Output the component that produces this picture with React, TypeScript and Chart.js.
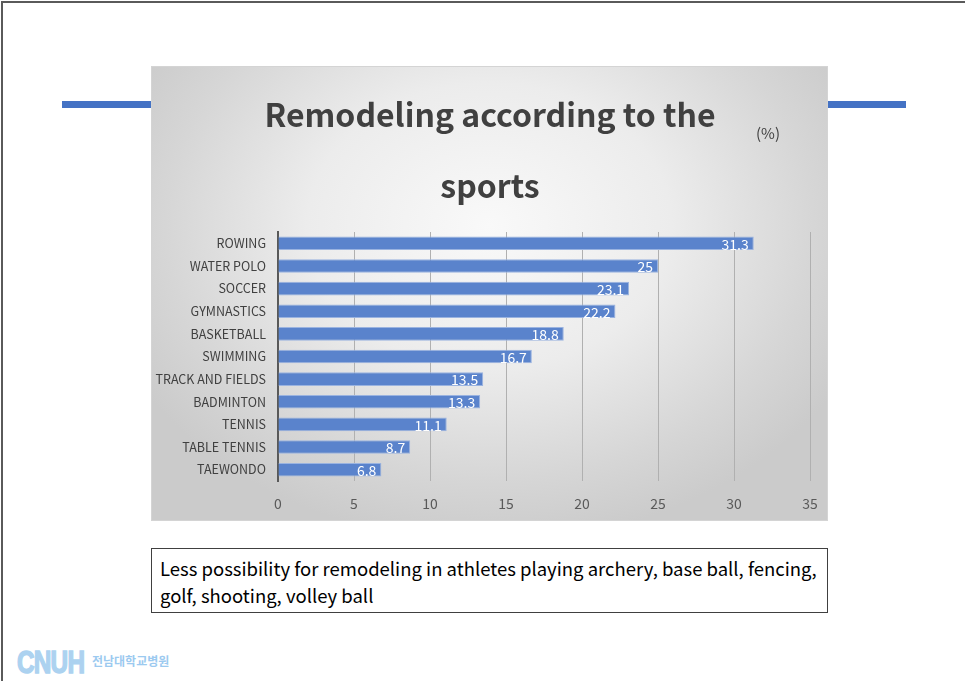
import React, { useEffect, useRef } from "react";
import { Chart, registerables } from "chart.js";

Chart.register(...registerables);

const categories = [
  "ROWING",
  "WATER POLO",
  "SOCCER",
  "GYMNASTICS",
  "BASKETBALL",
  "SWIMMING",
  "TRACK AND FIELDS",
  "BADMINTON",
  "TENNIS",
  "TABLE TENNIS",
  "TAEWONDO",
];
const values = [31.3, 25, 23.1, 22.2, 18.8, 16.7, 13.5, 13.3, 11.1, 8.7, 6.8];
const titleLines = ["Remodeling according to the", "sports"];
const unitLabel = "(%)";
const noteText = [
  "Less possibility for remodeling in athletes playing archery, base ball, fencing,",
  "golf, shooting, volley ball",
];
const xMin = 0;
const xMax = 35;
const xStep = 5;

const FONT = "'Noto Sans CJK KR', 'Noto Sans', sans-serif";

const titleDraw = {
  id: "titleDraw",
  afterDraw(chart: any) {
    const ctx = chart.ctx;
    ctx.save();
    ctx.font = `bold 32px ${FONT}`;
    ctx.fillStyle = "#404040";
    ctx.textAlign = "center";
    ctx.textBaseline = "middle";
    const cx = 339;
    titleLines.forEach((line, i) => {
      ctx.fillText(line, cx, 49 + i * 71);
    });
    ctx.restore();
  },
};

const valueLabels = {
  id: "valueLabels",
  afterDatasetsDraw(chart: any) {
    const ctx = chart.ctx;
    const meta = chart.getDatasetMeta(0);
    ctx.save();
    ctx.font = `14px ${FONT}`;
    ctx.fillStyle = "#ffffff";
    ctx.textAlign = "right";
    ctx.textBaseline = "middle";
    meta.data.forEach((bar: any, i: number) => {
      ctx.fillText(String(values[i]), bar.x - 5, bar.y + 1);
    });
    ctx.restore();
  },
};

export default function App() {
  const ref = useRef<HTMLCanvasElement>(null);

  useEffect(() => {
    if (!ref.current) return;
    Chart.defaults.font.family = FONT;
    const chart = new Chart(ref.current, {
      type: "bar",
      data: {
        labels: categories,
        datasets: [
          {
            data: values,
            backgroundColor: "#5a83cc",
            borderColor: "#9ab3e0",
            borderWidth: 1,
            barPercentage: 0.6,
            categoryPercentage: 1,
          },
        ],
      },
      options: {
        indexAxis: "y",
        responsive: false,
        animation: false,
        devicePixelRatio: 1,
        layout: { padding: { left: 0, right: 18, top: 166, bottom: 0 } },
        plugins: {
          legend: { display: false },
          tooltip: { enabled: false },
          title: { display: false },
        },
        scales: {
          x: {
            min: xMin,
            max: xMax,
            ticks: {
              stepSize: xStep,
              color: "#595959",
              font: { size: 14 },
              padding: 0,
            },
            grid: {
              color: "#b0b0b0",
              lineWidth: 1,
              drawTicks: true,
              tickLength: 14,
              tickColor: "rgba(0,0,0,0)",
            },
            border: { display: false },
            afterFit: (s: any) => {
              s.height = 40;
            },
          },
          y: {
            ticks: { color: "#404040", font: { size: 12.5 }, padding: 12 },
            grid: { display: false, drawTicks: false },
            border: { display: true, color: "#595959", width: 2 },
            afterFit: (s: any) => {
              s.width = 127;
            },
          },
        },
      },
      plugins: [valueLabels, titleDraw],
    });
    return () => chart.destroy();
  }, []);

  return (
    <div
      style={{
        position: "fixed",
        left: 0,
        top: 0,
        width: 965,
        height: 681,
        background: "#ffffff",
        overflow: "hidden",
        fontFamily: FONT,
      }}
    >
      <div style={{ position: "absolute", left: 1, top: 1, width: 964, height: 2, background: "#5a5a5a" }} />
      <div style={{ position: "absolute", left: 1, top: 1, width: 2, height: 680, background: "#5a5a5a" }} />
      <div style={{ position: "absolute", left: 62, top: 101, width: 844, height: 7, background: "#4472c4" }} />
      <div
        style={{
          position: "absolute",
          left: 151,
          top: 66,
          width: 677,
          height: 455,
          boxSizing: "border-box",
          border: "1px solid #d4d4d4",
          background:
            "radial-gradient(ellipse 60% 70% at 50% 35%, #f9f9f9 0%, #ececec 45%, #d6d6d6 80%, #cbcbcb 100%)",
        }}
      />
      <canvas
        ref={ref}
        width={677}
        height={455}
        style={{ position: "absolute", left: 151, top: 66, width: 677, height: 455 }}
      />
      <div
        style={{
          position: "absolute",
          left: 756,
          top: 123,
          fontSize: 15,
          color: "#404040",
          lineHeight: "20px",
        }}
      >
        {unitLabel}
      </div>
      <div
        style={{
          position: "absolute",
          left: 151,
          top: 548,
          width: 677,
          height: 65,
          boxSizing: "border-box",
          border: "1px solid #404040",
          padding: "6px 0 0 8px",
          fontSize: 18.5,
          lineHeight: "27px",
          color: "#000000",
          whiteSpace: "nowrap",
        }}
      >
        {noteText[0]}
        <br />
        {noteText[1]}
      </div>
      <div
        style={{
          position: "absolute",
          left: 17,
          top: 644,
          fontFamily: "'Liberation Sans', Arial, sans-serif",
          fontWeight: "bold",
          fontSize: 32,
          lineHeight: "36px",
          letterSpacing: -1,
          transform: "scaleX(0.76)",
          transformOrigin: "0 0",
          color: "#acd2f0",
          WebkitTextStroke: "1.5px #acd2f0",
        }}
      >
        CNUH
      </div>
      <div
        style={{
          position: "absolute",
          left: 92,
          top: 653,
          fontSize: 12,
          lineHeight: "16px",
          fontWeight: "bold",
          color: "#9ccaf0",
        }}
      >
        전남대학교병원
      </div>
    </div>
  );
}
